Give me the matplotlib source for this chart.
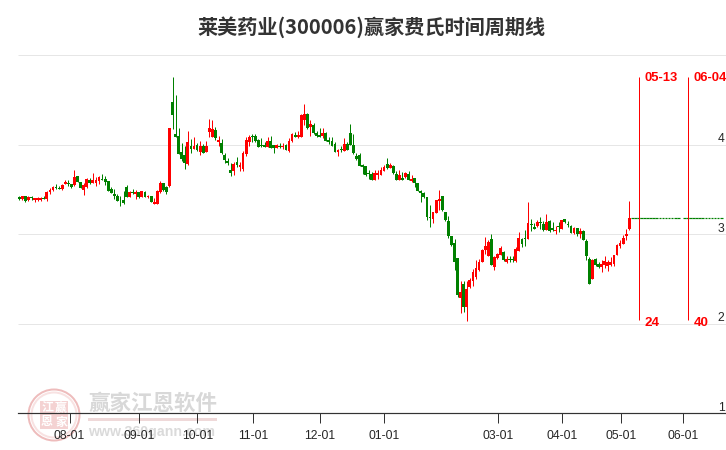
#Importing Libraries
import matplotlib
matplotlib.use('agg')
import matplotlib.pyplot as plt
from matplotlib.patches import Circle, Rectangle

title = '莱美药业(300006)赢家费氏时间周期线'

# daily bars
opens = [3.42,3.40,3.43,3.38,3.42,3.39,3.39,3.39,3.41,3.40,3.47,3.50,3.53,3.52,3.51,3.56,3.58,3.56,3.55,3.65,
         3.59,3.50,3.53,3.61,3.58,3.58,3.60,3.62,3.62,3.60,3.51,3.45,3.43,3.39,3.39,3.53,3.42,3.47,3.45,3.48,
         3.42,3.48,3.42,3.43,3.34,3.34,3.48,3.58,3.53,3.54,4.48,4.12,4.10,3.92,3.89,3.79,3.99,3.96,4.00,3.92,
         3.99,3.92,4.15,4.09,4.17,4.03,4.02,3.89,3.82,3.72,3.71,3.81,3.75,3.73,3.90,4.03,4.10,4.10,4.06,4.00,
         4.00,3.98,4.05,4.00,3.97,3.99,3.98,4.00,3.93,4.05,4.11,4.09,4.09,4.28,4.35,4.20,4.22,4.13,4.11,4.10,
         4.13,4.06,4.05,4.01,3.92,3.95,3.93,4.01,4.13,4.00,3.88,3.89,3.78,3.77,3.69,3.68,3.61,3.67,3.67,3.71,
         3.79,3.74,3.77,3.68,3.61,3.63,3.64,3.68,3.60,3.63,3.58,3.49,3.46,3.42,3.20,3.17,3.24,3.37,3.43,3.25,
         3.15,2.98,2.91,2.74,2.29,2.45,2.19,2.41,2.48,2.53,2.60,2.69,2.83,2.76,2.95,2.64,2.74,2.77,2.80,2.69,
         2.73,2.73,2.70,2.82,2.95,2.96,2.95,3.12,3.08,3.10,3.14,3.12,3.05,3.15,3.07,3.04,3.10,3.06,3.17,3.12,
         3.10,3.02,3.07,3.00,3.04,2.93,2.73,2.50,2.73,2.67,2.64,2.66,2.65,2.66,2.67,2.77,2.87,2.89,2.98,3.06]
closes = [3.40,3.43,3.37,3.42,3.41,3.41,3.41,3.41,3.40,3.47,3.50,3.53,3.52,3.51,3.55,3.59,3.56,3.53,3.64,3.59,
          3.52,3.55,3.62,3.58,3.61,3.61,3.64,3.61,3.59,3.49,3.46,3.43,3.37,3.38,3.35,3.42,3.48,3.46,3.48,3.42,
          3.49,3.42,3.43,3.36,3.36,3.49,3.58,3.50,3.48,4.19,4.34,4.09,3.90,3.84,3.80,4.03,3.96,3.99,3.94,3.99,
          3.91,3.99,4.19,4.18,4.08,4.06,3.91,3.83,3.80,3.69,3.79,3.78,3.78,3.91,4.06,4.09,4.09,4.05,3.98,3.99,
          3.98,4.05,3.97,3.97,4.00,3.98,3.99,3.94,4.05,4.12,4.09,4.11,4.34,4.35,4.19,4.23,4.13,4.10,4.09,4.13,
          4.05,4.03,3.99,3.92,3.94,3.94,4.01,3.94,4.00,3.91,3.84,3.77,3.75,3.67,3.68,3.61,3.69,3.69,3.72,3.75,
          3.74,3.78,3.69,3.61,3.67,3.61,3.69,3.61,3.62,3.58,3.49,3.46,3.42,3.20,3.18,3.25,3.39,3.40,3.27,3.16,
          2.98,2.88,2.69,2.32,2.36,2.19,2.39,2.49,2.58,2.63,2.69,2.83,2.87,2.92,2.66,2.75,2.78,2.85,2.72,2.73,
          2.72,2.72,2.84,2.96,2.89,2.95,3.13,3.11,3.06,3.14,3.13,3.05,3.14,3.04,3.05,3.05,3.08,3.16,3.14,3.11,
          3.02,3.07,3.00,3.04,2.94,2.76,2.45,2.72,2.66,2.64,2.67,2.70,2.69,2.69,2.77,2.88,2.91,2.96,3.01,3.18]
highs = [3.43,3.43,3.43,3.43,3.43,3.41,3.42,3.42,3.43,3.49,3.52,3.54,3.56,3.54,3.56,3.61,3.61,3.56,3.72,3.65,
         3.59,3.58,3.63,3.63,3.69,3.64,3.65,3.68,3.65,3.60,3.53,3.51,3.45,3.43,3.49,3.55,3.49,3.51,3.50,3.48,
         3.49,3.49,3.44,3.43,3.41,3.50,3.60,3.58,3.54,4.19,4.76,4.56,4.19,4.02,3.99,4.16,4.07,4.09,4.02,4.05,
         4.01,4.05,4.29,4.28,4.20,4.10,4.07,3.91,3.86,3.80,3.81,3.87,3.81,3.93,4.09,4.11,4.12,4.12,4.07,4.08,
         4.03,4.09,4.10,4.00,4.01,4.02,4.02,4.01,4.08,4.13,4.15,4.16,4.35,4.46,4.36,4.28,4.25,4.16,4.19,4.19,
         4.15,4.09,4.09,4.03,3.96,3.99,4.08,4.03,4.23,4.12,3.91,3.91,3.79,3.77,3.72,3.70,3.72,3.72,3.75,3.78,
         3.86,3.80,3.78,3.71,3.72,3.70,3.70,3.71,3.67,3.63,3.58,3.50,3.48,3.42,3.33,3.25,3.39,3.50,3.43,3.25,
         3.21,2.98,2.95,2.74,2.48,2.48,2.48,2.51,2.61,2.72,2.73,2.84,2.97,2.94,3.01,2.76,2.79,2.87,2.82,2.76,
         2.76,2.76,2.86,3.03,2.96,3.05,3.36,3.17,3.13,3.16,3.20,3.15,3.23,3.16,3.14,3.10,3.14,3.16,3.17,3.15,
         3.11,3.08,3.07,3.07,3.05,2.95,2.75,2.73,2.74,2.69,2.72,2.76,2.72,2.75,2.77,2.89,2.94,2.99,3.06,3.37]
lows = [3.39,3.39,3.36,3.37,3.39,3.36,3.37,3.37,3.40,3.37,3.45,3.49,3.51,3.51,3.50,3.56,3.54,3.52,3.54,3.59,
        3.52,3.44,3.52,3.56,3.58,3.54,3.56,3.61,3.55,3.49,3.46,3.40,3.37,3.32,3.34,3.42,3.42,3.45,3.40,3.41,
        3.42,3.42,3.41,3.36,3.34,3.34,3.46,3.49,3.45,3.53,4.18,4.09,3.90,3.82,3.73,3.78,3.91,3.96,3.93,3.89,
        3.91,3.92,4.09,4.09,4.06,3.99,3.90,3.80,3.78,3.65,3.67,3.75,3.71,3.71,3.88,3.99,4.03,4.03,3.98,3.98,
        3.98,3.98,3.97,3.91,3.97,3.97,3.96,3.94,3.92,4.03,4.09,4.08,4.09,4.22,4.18,4.10,4.12,4.09,4.09,4.08,
        4.05,4.01,3.99,3.92,3.88,3.92,3.93,3.94,4.00,3.90,3.83,3.77,3.68,3.65,3.62,3.61,3.61,3.62,3.67,3.71,
        3.73,3.74,3.68,3.61,3.61,3.61,3.63,3.61,3.59,3.53,3.49,3.36,3.41,3.16,3.08,3.13,3.24,3.27,3.26,3.15,
        2.96,2.87,2.60,2.30,2.12,2.13,2.03,2.40,2.43,2.50,2.59,2.69,2.78,2.76,2.66,2.60,2.73,2.77,2.70,2.68,
        2.69,2.69,2.69,2.82,2.86,2.87,2.95,3.04,3.06,3.08,3.06,3.04,3.05,3.03,3.04,3.01,3.03,3.06,3.13,3.08,
        3.02,3.00,2.98,2.96,2.94,2.72,2.45,2.50,2.65,2.63,2.58,2.63,2.59,2.65,2.65,2.77,2.85,2.89,2.94,3.05]

# flat projection after the last bar
future_days = [d for d in range(200, 230) if d != 216]
future_close = 3.18

price_ticks = [1, 2, 3, 4, 5]
price_labels = ['1', '2', '3', '4']
date_ticks = [16.4, 39.1, 58.1, 76.3, 98.1, 119, 156.2, 177, 196.4, 216.7]
date_labels = ['08-01', '09-01', '10-01', '11-01', '12-01', '01-01', '03-01', '04-01', '05-01', '06-01']
cycle_pos = [202.3, 218.3]
cycle_dates = ['05-13', '06-04']
cycle_counts = ['24', '40']

RED = '#ff0000'
GREEN = '#008000'
TEXT = '#262626'
SANS = ['Liberation Sans', 'DejaVu Sans']
CJK = ['Noto Sans CJK SC', 'DejaVu Sans']

px = 1 / 100 * 72  # one pixel in points


def pxx(v):
    return (v - 19.3) / 3.065


def fx(x):
    return x / 726


def fy(y):
    return 1 - y / 450


fig = plt.figure(figsize=(7.26, 4.5), dpi=100)

# watermark goes under the chart
logo = fig.add_axes([fx(26), fy(443), 56 / 726, 56 / 450], zorder=0)
logo.set_xlim(-28, 28)
logo.set_ylim(-28, 28)
logo.axis('off')
logo.add_patch(Circle((0, 0), 25.5, fill=False, ec='#eebcbc', lw=2 * px))
logo.add_patch(Circle((0, 0), 22.5, fill=False, ec='#f8e2e2', lw=2 * px))
logo.add_patch(Rectangle((-14, -14), 28, 28, fc='#f4d2d2', ec='none'))
for (cx, cy), ch in zip([(-7, 7), (7, 7), (-7, -7), (7, -7)], ['江', '赢', '恩', '家']):
    logo.text(cx, cy, ch, ha='center', va='center', fontsize=8.6, family=CJK, color='white', fontweight='bold')

fig.text(fx(88), fy(403), '赢家江恩软件', ha='left', va='center', fontsize=15.5, family=CJK,
         color='#d8d8d8', fontweight='bold', zorder=0)
fig.add_artist(Rectangle((fx(88), fy(421)), 129 / 726, 3 / 450, transform=fig.transFigure,
                         fc='#efd9d9', ec='none', zorder=0))
fig.text(fx(88), fy(432), 'www.360gann.com', ha='left', va='center', fontsize=10.2, family=SANS,
         color='#dadada', fontweight='bold', zorder=0)

ax = fig.add_axes([0, 0, 1, 1], zorder=2)
ax.patch.set_visible(False)
ax.set_xlim(pxx(0), pxx(726))
ax.set_ylim(0.592, 5.62)

for s in ['top', 'left', 'right']:
    ax.spines[s].set_visible(False)
ax.spines['bottom'].set_position(('data', 1))
ax.spines['bottom'].set_bounds(pxx(18), pxx(726))
ax.spines['bottom'].set_color('#333333')
ax.spines['bottom'].set_linewidth(px * 1.2)
ax.set_yticks([])

ax.set_xticks(date_ticks)
ax.set_xticklabels(date_labels, fontsize=8.7, family=SANS, color=TEXT)
ax.tick_params(axis='x', length=10 * px, width=px, color='#333333', pad=4.7)

for p in price_ticks[1:]:
    ax.hlines(p, pxx(18), pxx(726), color='#e6e6e6', lw=px, zorder=1)
for p, lab in zip(price_ticks, price_labels):
    ax.text(0.998, p + 0.062, lab, transform=ax.get_yaxis_transform(), ha='right', va='center',
            fontsize=8.7, family=SANS, color=TEXT)

# candles
for i in range(len(opens)):
    up = closes[i] >= opens[i]
    col = RED if up else GREEN
    ax.vlines(i, lows[i], highs[i], color=col, lw=px, zorder=3, snap=True)
    ax.bar(i, abs(closes[i] - opens[i]), bottom=min(opens[i], closes[i]), width=0.92, color=col, lw=0, zorder=3)

for d in future_days:
    ax.hlines(future_close, d - 0.44, d + 0.44, color=GREEN, lw=px * 1.2, zorder=3)

# cycle markers
for pos, d, n in zip(cycle_pos, cycle_dates, cycle_counts):
    ax.vlines(pos, 2.04, 4.76, color=RED, lw=px, zorder=4, snap=True)
    ax.annotate(d, (pos, 4.76), xytext=(5.2 * px, -1.5 * px), textcoords='offset points', ha='left', va='center',
                fontsize=9.35, family=SANS, fontweight='bold', color=RED)
    ax.annotate(n, (pos, 2.04), xytext=(5.2 * px, -2.5 * px), textcoords='offset points', ha='left', va='center',
                fontsize=9.6, family=SANS, fontweight='bold', color=RED)

fig.text(371.5 / 726, fy(27), title, ha='center', va='center', fontsize=14.5, family=CJK,
         fontweight='bold', color='#333333')

plt.savefig('out.png', dpi=100)
plt.close()
